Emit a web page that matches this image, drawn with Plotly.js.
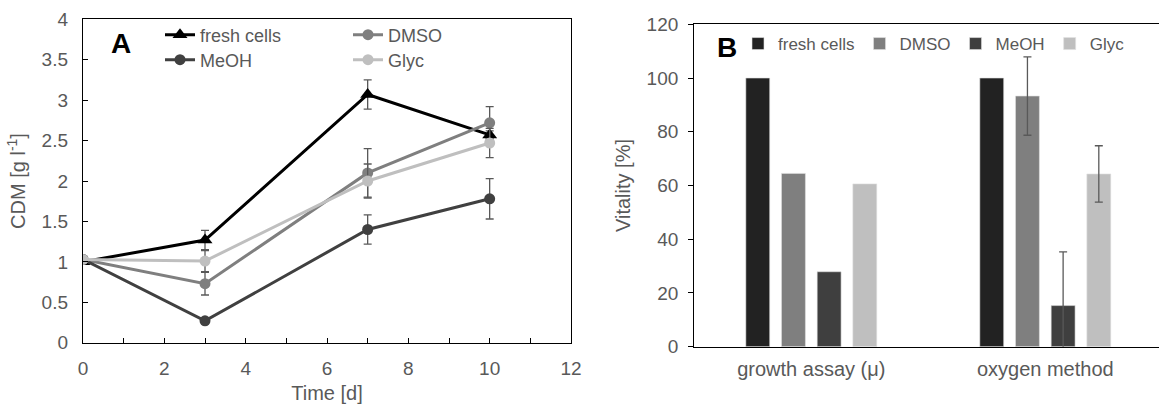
<!DOCTYPE html>
<html>
<head>
<meta charset="utf-8">
<script src="https://cdn.plot.ly/plotly-3.0.1.min.js"></script>
<style>html,body{margin:0;padding:0;background:#fff;}#chart{width:1159px;height:407px;}</style>
</head>
<body>
<div id="chart"></div>
<script>
// ---- Panel A data: CDM [g l-1] over time ----
const days = [0, 3, 7, 10];
const freshCDM = [1.00, 1.27, 3.07, 2.57];
const freshErr = [NaN, 0.12, 0.18, 0.05];
const dmsoCDM  = [1.03, 0.73, 2.10, 2.72];
const dmsoErr  = [NaN, 0.14, 0.30, 0.20];
const meohCDM  = [1.03, 0.27, 1.40, 1.78];
const meohErr  = [NaN, 0.02, 0.18, 0.25];
const glycCDM  = [1.03, 1.01, 2.00, 2.47];
const glycErr  = [NaN, 0.13, 0.21, 0.18];

// ---- Panel B data: Vitality [%] ----
const methods  = ['growth assay (μ)', 'oxygen method'];
const freshVit = [100, 100];
const freshVitErr = [NaN, NaN];
const dmsoVit  = [64.5, 93.3];
const dmsoVitErr = [NaN, 14.6];
const meohVit  = [27.9, 15.3];
const meohVitErr = [NaN, 20.0];
const glycVit  = [60.6, 64.3];
const glycVitErr = [NaN, 10.5];

const seriesNames = ['fresh cells', 'DMSO', 'MeOH', 'Glyc'];
const lineColors = ['#000000', '#7f7f7f', '#404040', '#bfbfbf'];
const barColors  = ['#222222', '#7f7f7f', '#3f3f3f', '#bfbfbf'];
const markerSymbols = ['triangle-up', 'circle', 'circle', 'circle'];
const markerSizes = [13, 11, 11, 11];

const errStyle = (arr) => ({type: 'data', array: arr, visible: true, color: '#595959', thickness: 1.3, width: 4});

function lineTrace(i, y, err, legend) {
  return {
    type: 'scatter', mode: 'lines+markers', x: days, y: y, name: seriesNames[i],
    xaxis: 'x', yaxis: 'y', legend: legend,
    line: {color: lineColors[i], width: 3},
    marker: {color: lineColors[i], size: markerSizes[i], symbol: markerSymbols[i]},
    error_y: errStyle(err)
  };
}
function barTrace(i, y, err) {
  return {
    type: 'bar', x: methods, y: y, name: seriesNames[i], xaxis: 'x2', yaxis: 'y2', legend: 'legend3',
    marker: {color: barColors[i], line: {color: '#e0e0e0', width: 0.6}},
    error_y: errStyle(err)
  };
}

const traces = [
  lineTrace(0, freshCDM, freshErr, 'legend'),
  lineTrace(1, dmsoCDM, dmsoErr, 'legend'),
  lineTrace(2, meohCDM, meohErr, 'legend2'),
  lineTrace(3, glycCDM, glycErr, 'legend2'),
  barTrace(0, freshVit, freshVitErr),
  barTrace(1, dmsoVit, dmsoVitErr),
  barTrace(2, meohVit, meohVitErr),
  barTrace(3, glycVit, glycVitErr)
];

const W = 1159, H = 407;
const FONT = 'Liberation Sans, Arial, sans-serif';
const GRAY = '#595959';

const legendCommon = {
  orientation: 'h', xref: 'paper', yref: 'paper',
  xanchor: 'left', yanchor: 'middle', bgcolor: 'rgba(0,0,0,0)',
  font: {family: FONT, size: 18, color: GRAY}, itemwidth: 30, tracegroupgap: 0
};

const layout = {
  width: W, height: H,
  margin: {l: 0, r: 0, t: 0, b: 0, pad: 0},
  paper_bgcolor: '#ffffff', plot_bgcolor: '#ffffff',
  font: {family: FONT, size: 18, color: GRAY},
  showlegend: true,
  barmode: 'group', bargap: 0.39, bargroupgap: 0.33,
  xaxis: {
    domain: [83 / W, 571 / W], anchor: 'y',
    range: [0, 12], dtick: 1, tick0: 0, ticklabelstep: 2,
    ticks: 'inside', ticklen: 5, tickcolor: '#000', tickwidth: 1,
    showline: true, linecolor: '#000', linewidth: 1.2, mirror: true,
    showgrid: false, zeroline: false,
    tickfont: {family: FONT, size: 19, color: GRAY}, ticklabelstandoff: 8,
    title: {text: 'Time [d]', font: {family: FONT, size: 20, color: GRAY}, standoff: 8}
  },
  yaxis: {
    domain: [(H - 342.7) / H, (H - 19.3) / H], anchor: 'x',
    range: [0, 4], dtick: 0.5, tick0: 0,
    ticks: 'inside', ticklen: 5, tickcolor: '#000', tickwidth: 1,
    showline: true, linecolor: '#000', linewidth: 1.2, mirror: true,
    showgrid: false, zeroline: false,
    tickfont: {family: FONT, size: 19, color: GRAY}, ticklabelstandoff: 10,
    title: {text: 'CDM [g l<sup>-1</sup>]', font: {family: FONT, size: 20, color: GRAY}, standoff: 10}
  },
  xaxis2: {
    domain: [694.3 / W, 1], anchor: 'y2',
    type: 'category', range: [-0.5, 1.486],
    ticks: '', showline: true, linecolor: '#000', linewidth: 1.5, mirror: true,
    showgrid: false, zeroline: false,
    tickfont: {family: FONT, size: 20, color: GRAY}, ticklabelstandoff: 4
  },
  yaxis2: {
    domain: [(H - 346.7) / H, (H - 24.3) / H], anchor: 'x2',
    range: [0, 120], dtick: 20, tick0: 0,
    ticks: 'outside', ticklen: 5, tickcolor: '#000', tickwidth: 1,
    showline: true, linecolor: '#000', linewidth: 1.2, mirror: false,
    showgrid: false, zeroline: false,
    tickfont: {family: FONT, size: 19, color: GRAY}, ticklabelstandoff: 6,
    title: {text: 'Vitality [%]', font: {family: FONT, size: 20, color: GRAY}, standoff: 10}
  },
  legend:  Object.assign({}, legendCommon, {x: 160 / W, y: 1 - 35 / H, entrywidth: 143, entrywidthmode: 'pixels'}),
  legend2: Object.assign({}, legendCommon, {x: 160 / W, y: 1 - 60 / H, entrywidth: 143, entrywidthmode: 'pixels'}),
  legend3: Object.assign({}, legendCommon, {x: 738 / W, y: 1 - 44 / H, font: {family: FONT, size: 17, color: GRAY}}),
  annotations: [
    {text: '<b>A</b>', xref: 'x domain', yref: 'y domain', x: 0.078, y: 0.926, xanchor: 'center', yanchor: 'middle',
     showarrow: false, font: {family: FONT, size: 28, color: '#000'}},
    {text: '<b>B</b>', xref: 'x2 domain', yref: 'y2 domain', x: 0.07, y: 0.928, xanchor: 'center', yanchor: 'middle',
     showarrow: false, font: {family: FONT, size: 28, color: '#000'}}
  ]
};

Plotly.newPlot('chart', traces, layout, {displayModeBar: false, staticPlot: true});
</script>
</body>
</html>
